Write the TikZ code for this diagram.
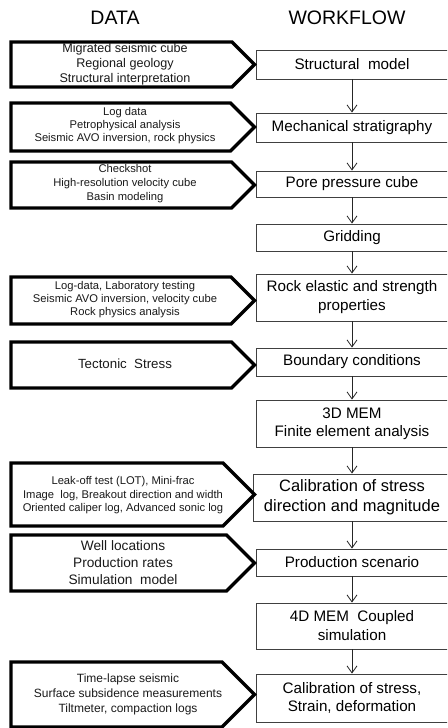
\documentclass[tikz,border=0pt]{standalone}
\usepackage{fontspec}
\setmainfont{Liberation Sans}
\usetikzlibrary{arrows.meta}
\begin{document}
\begin{tikzpicture}[x=1pt,y=-1pt,
  wbox/.style={draw=black!75, line width=0.9pt, minimum width=192pt, inner sep=0pt, align=center, font=\fontsize{15.2}{19}\selectfont},
  dshape/.style={draw=black, line width=3.2pt, line join=miter},
  dtext/.style={align=center, inner sep=0pt, text=black!90},
  flow/.style={draw=black!85, line width=0.8pt, -{Straight Barb[length=7pt,width=10pt,line width=0.8pt]}},
  head/.style={inner sep=0pt, font=\fontsize{19.5}{22}\selectfont}]
\useasboundingbox (0,0) rectangle (447,728);
\clip (0,0) rectangle (447,728);

% headers
\node[head] (hdata) at (115,18) {DATA};
\node[head] (hflow) at (347,18) {WORKFLOW};

% workflow boxes
\node[wbox, minimum height=29pt] (b1) at (352,64.5) {Structural\ \ model};
\node[wbox, minimum height=29pt] (b2) at (352,127.5) {Mechanical stratigraphy};
\node[wbox, minimum height=26pt] (b3) at (352,184) {Pore pressure cube};
\node[wbox, minimum height=27pt] (b4) at (352,237.5) {Gridding};
\node[wbox, minimum height=47pt] (b5) at (352,297.5) {Rock elastic and strength\\properties};
\node[wbox, minimum height=28pt] (b6) at (352,362) {Boundary conditions};
\node[wbox, minimum height=47pt, font=\fontsize{15.2}{18}\selectfont] (b7) at (352,423.5) {3D MEM\\Finite element analysis};
\node[wbox, minimum height=47pt, minimum width=198pt, font=\fontsize{16.5}{20}\selectfont] (b8) at (352,497.5) {Calibration of stress\\direction and magnitude};
\node[wbox, minimum height=27pt] (b9) at (352,562.5) {Production scenario};
\node[wbox, minimum height=46pt] (b10) at (352,626) {4D MEM\ \ Coupled\\simulation};
\node[wbox, minimum height=48pt, font=\fontsize{15.2}{18}\selectfont] (b11) at (352,698) {Calibration of stress,\\Strain, deformation};

% workflow connectors
\draw[flow] (b1.south) -- (b2.north);
\draw[flow] (b2.south) -- (b3.north);
\draw[flow] (b3.south) -- (b4.north);
\draw[flow] (b4.south) -- (b5.north);
\draw[flow] (b5.south) -- (b6.north);
\draw[flow] (b6.south) -- (b7.north);
\draw[flow] (b7.south) -- (b8.north);
\draw[flow] (b8.south) -- (b9.north);
\draw[flow] (b9.south) -- (b10.north);
\draw[flow] (b10.south) -- (b11.north);

% data arrows (tip at x=254.5, 45 degree point)
\draw[dshape] (11,42) -- (232,42) -- (254.5,64.5) -- (232,87) -- (11,87) -- cycle;
\draw[dshape] (11,103) -- (230.5,103) -- (254.5,127) -- (230.5,151) -- (11,151) -- cycle;
\draw[dshape] (11,162) -- (231.5,162) -- (254.5,185) -- (231.5,208) -- (11,208) -- cycle;
\draw[dshape] (11,277) -- (231,277) -- (254.5,300.5) -- (231,324) -- (11,324) -- cycle;
\draw[dshape] (11,342) -- (231.5,342) -- (254.5,365) -- (231.5,388) -- (11,388) -- cycle;
\draw[dshape] (11,463) -- (223,463) -- (254.5,494.5) -- (223,526) -- (11,526) -- cycle;
\draw[dshape] (11,535) -- (226.5,535) -- (254.5,563) -- (226.5,591) -- (11,591) -- cycle;
\draw[dshape] (11,662) -- (222,662) -- (254.5,694.5) -- (222,727) -- (11,727) -- cycle;

% data texts
\node[dtext, font=\fontsize{12.6}{15}\selectfont] (d1) at (125,64) {Migrated seismic cube\\Regional geology\\Structural interpretation};
\node[dtext, font=\fontsize{11.2}{13}\selectfont] (d2) at (125,126) {Log data\\Petrophysical analysis\\Seismic AVO inversion, rock physics};
\node[dtext, font=\fontsize{11.2}{14}\selectfont] (d3) at (125,184) {Checkshot\\High-resolution velocity cube\\Basin modeling};
\node[dtext, font=\fontsize{11.2}{13}\selectfont] (d4) at (125,300) {Log-data, Laboratory testing\\Seismic AVO inversion, velocity cube\\Rock physics analysis};
\node[dtext, font=\fontsize{13.3}{16}\selectfont] (d5) at (125,364) {Tectonic\ \ Stress};
\node[dtext, font=\fontsize{11.2}{13.5}\selectfont] (d6) at (123,495.5) {Leak-off test (LOT), Mini-frac\\Image\ \ log, Breakout direction and width\\Oriented caliper log, Advanced sonic log};
\node[dtext, font=\fontsize{13.7}{17}\selectfont] (d7) at (123,563) {Well locations\\Production rates\\Simulation\ \ model};
\node[dtext, font=\fontsize{12}{15}\selectfont] (d8) at (128,694.5) {Time-lapse seismic\\Surface subsidence measurements\\Tiltmeter, compaction logs};
\end{tikzpicture}
\end{document}
